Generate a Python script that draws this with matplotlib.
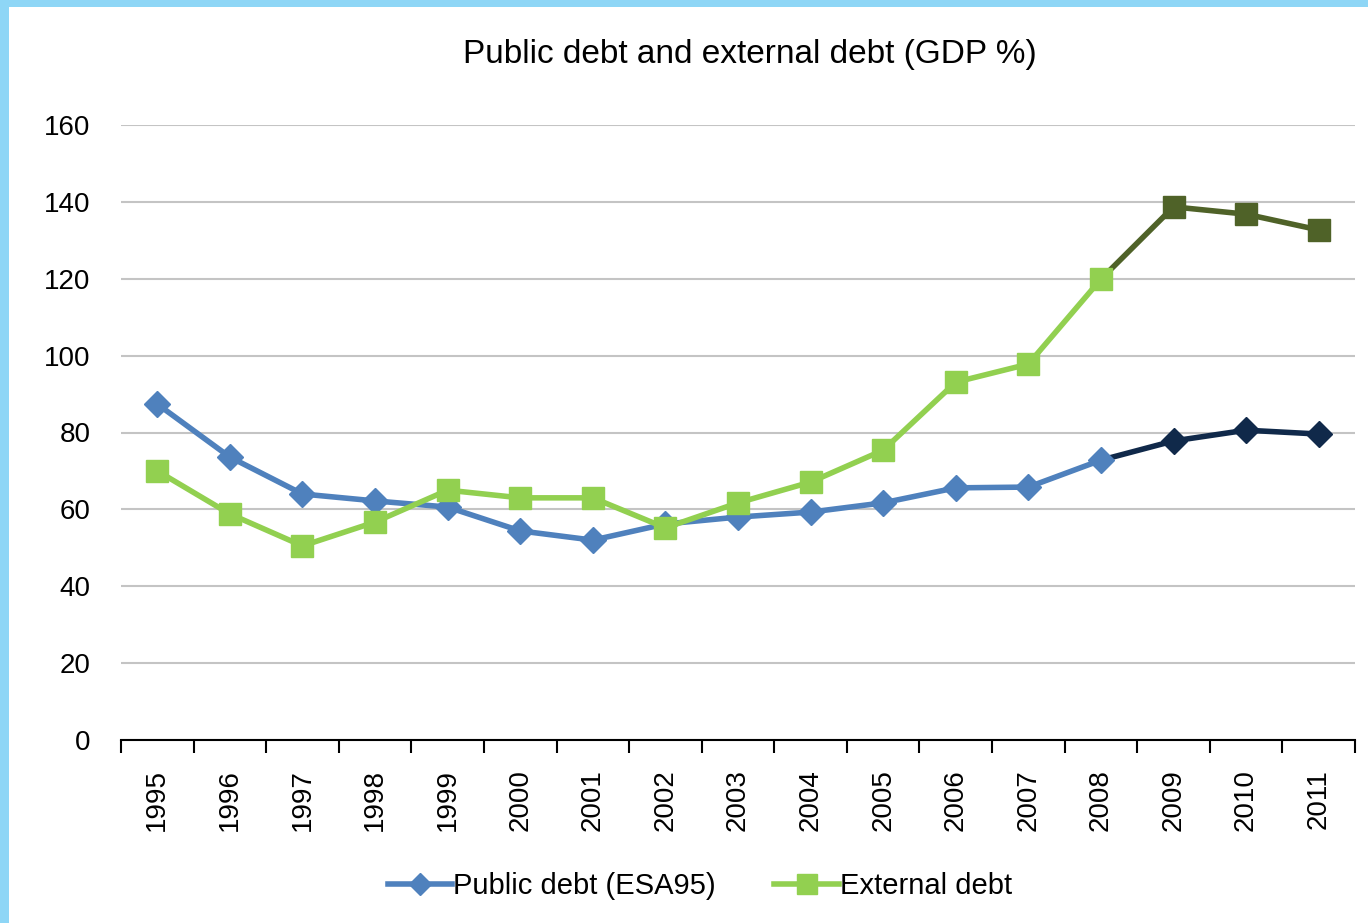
import numpy as np
import matplotlib.pyplot as plt
from matplotlib.patches import Rectangle

plt.rcParams['font.family'] = ['Liberation Sans', 'DejaVu Sans']

# Data
years = ['1995', '1996', '1997', '1998', '1999', '2000', '2001', '2002', '2003',
         '2004', '2005', '2006', '2007', '2008', '2009', '2010', '2011']
public_debt = [87.4, 73.6, 64.0, 62.2, 60.6, 54.4, 52.0, 56.2, 58.0,
               59.3, 61.7, 65.6, 65.8, 72.8, 77.8, 80.6, 79.6]
external_debt = [70.0, 58.8, 50.5, 56.7, 65.0, 63.0, 63.0, 55.2, 61.7,
                 67.1, 75.4, 93.1, 97.8, 119.9, 138.7, 136.8, 132.7]
split = 13  # from 2008 on the lines are drawn in a darker shade

x = np.arange(len(years))

fig = plt.figure(figsize=(13.68, 9.23), dpi=100, facecolor='white')
# light blue frame on the top and left edges
border = '#8ED6F6'
fig.patches.append(Rectangle((0, 1 - 7 / 923), 1, 7 / 923, transform=fig.transFigure,
                             facecolor=border, edgecolor='none'))
fig.patches.append(Rectangle((0, 0), 9 / 1368, 1, transform=fig.transFigure,
                             facecolor=border, edgecolor='none'))

ax = fig.add_axes([121 / 1368, 1 - 740 / 923, (1355 - 121) / 1368, (740 - 125) / 923])
ax.set_facecolor('none')

lw = 4.0
# darker tail segments
ax.plot(x[split:], public_debt[split:], color='#10294A', lw=lw, marker='D', ms=13,
        markevery=list(range(1, len(x) - split)), zorder=3)
ax.plot(x[split:], external_debt[split:], color='#4F6228', lw=lw, marker='s', ms=16,
        markevery=list(range(1, len(x) - split)), zorder=3)

# lighter main segments
l1, = ax.plot(x[:split + 1], public_debt[:split + 1], color='#4F81BD', lw=lw,
              marker='D', ms=13, zorder=4, label='Public debt (ESA95)')
l2, = ax.plot(x[:split + 1], external_debt[:split + 1], color='#92D050', lw=lw,
              marker='s', ms=16, zorder=4, label='External debt')

ax.set_xlim(-0.5, len(years) - 0.5)
ax.set_ylim(0, 160)
ax.set_yticks(np.arange(0, 161, 20))
ax.grid(axis='y', color='#C4C4C4', lw=1.5)
ax.set_axisbelow(True)

ax.set_xticks(np.arange(-0.5, len(years)), labels=[])
ax.set_xticks(x, labels=years, minor=True)
ax.tick_params(axis='x', which='major', length=9, width=1.5, color='black')
ax.tick_params(axis='x', which='minor', length=0, pad=21, labelrotation=90, labelsize=20)
ax.tick_params(axis='y', length=0, pad=22, labelsize=20)

for side in ['top', 'right', 'left']:
    ax.spines[side].set_visible(False)
ax.spines['bottom'].set_linewidth(1.5)

fig.text(750 / 1368, 1 - 55 / 923, 'Public debt and external debt (GDP %)',
         fontsize=24, ha='center', va='center')

fig.legend(handles=[l1, l2], loc='center', bbox_to_anchor=(700 / 1368, 1 - 886 / 923),
           ncol=2, frameon=False, fontsize=21, handlelength=2.2, handletextpad=0.05,
           columnspacing=2.0, markerscale=0.9)

fig.savefig('out.png', dpi=100, facecolor=fig.get_facecolor())
